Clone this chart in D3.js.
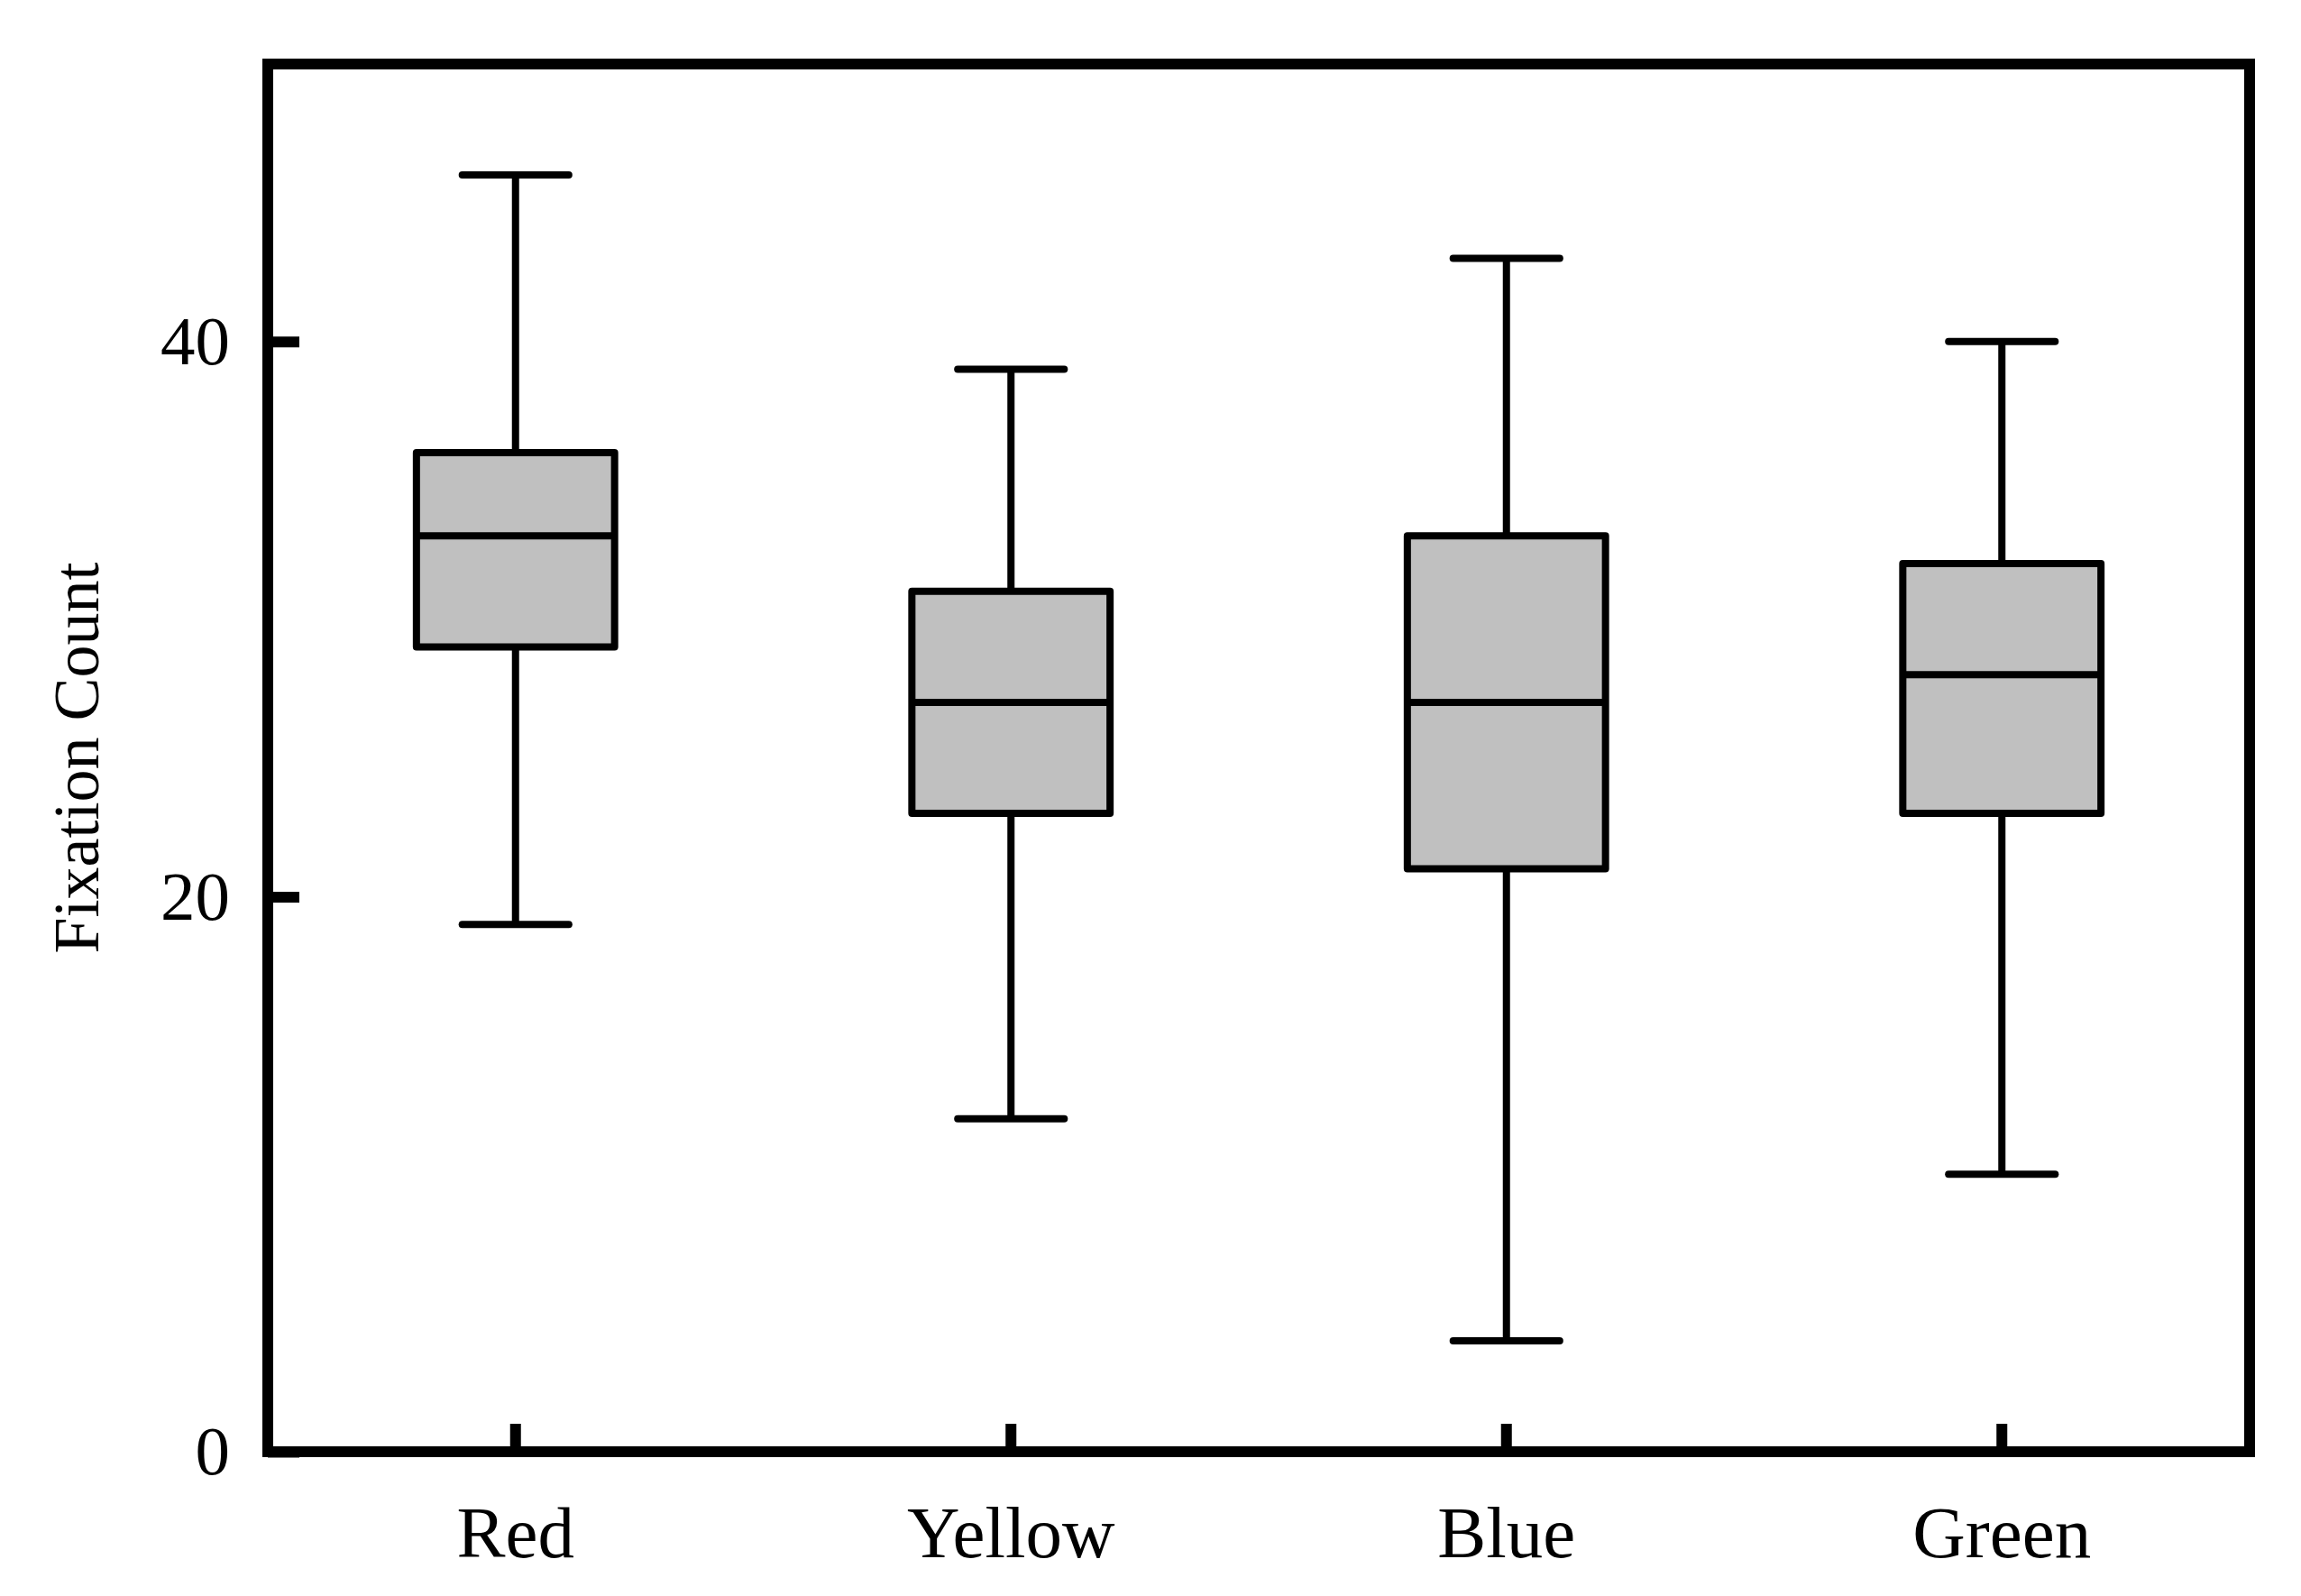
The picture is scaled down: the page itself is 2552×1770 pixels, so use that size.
<!DOCTYPE html>
<html>
<head>
<meta charset="utf-8">
<script src="https://cdn.jsdelivr.net/npm/d3@7"></script>
<style>
  html, body { margin: 0; padding: 0; background: #fff; }
  svg { display: block; }
  text { font-family: "Liberation Serif", "Times New Roman", serif; fill: #000; }
</style>
</head>
<body>
<script>
const categories = ["Red", "Yellow", "Blue", "Green"];
const whiskerMin = [19, 12, 4, 10];
const q1Values   = [29, 23, 21, 23];
const medians    = [33, 27, 27, 28];
const q3Values   = [36, 31, 33, 32];
const whiskerMax = [46, 39, 43, 40];
const yTicks = [0, 20, 40];
const yTitle = "Fixation Count";

const W = 2552, H = 1770;
const plotLeft = 297, plotRight = 2495, plotTop = 71, plotBottom = 1610;

const svg = d3.select("body").append("svg").attr("width", W).attr("height", H);

const x = d3.scaleBand().domain(categories).range([plotLeft, plotRight]).padding(0);
const y = d3.scaleLinear().domain([0, 50]).range([plotBottom, plotTop]);

const data = categories.map((c, i) => ({
  cat: c, min: whiskerMin[i], q1: q1Values[i], med: medians[i], q3: q3Values[i], max: whiskerMax[i]
}));

const boxW = x.bandwidth() * 0.4;
const capW = x.bandwidth() * 0.215;

const g = svg.append("g");
const groups = g.selectAll("g.box").data(data).join("g").attr("class", "box")
  .attr("transform", d => `translate(${x(d.cat) + x.bandwidth() / 2},0)`);

// whiskers
groups.append("line").attr("x1", 0).attr("x2", 0)
  .attr("y1", d => y(d.q3)).attr("y2", d => y(d.max))
  .attr("stroke", "#000").attr("stroke-width", 8);
groups.append("line").attr("x1", 0).attr("x2", 0)
  .attr("y1", d => y(d.q1)).attr("y2", d => y(d.min))
  .attr("stroke", "#000").attr("stroke-width", 8);
// caps
groups.append("line").attr("x1", -capW / 2).attr("x2", capW / 2)
  .attr("y1", d => y(d.max)).attr("y2", d => y(d.max))
  .attr("stroke", "#000").attr("stroke-width", 8).attr("stroke-linecap", "round");
groups.append("line").attr("x1", -capW / 2).attr("x2", capW / 2)
  .attr("y1", d => y(d.min)).attr("y2", d => y(d.min))
  .attr("stroke", "#000").attr("stroke-width", 8).attr("stroke-linecap", "round");
// box
groups.append("rect").attr("x", -boxW / 2).attr("width", boxW)
  .attr("y", d => y(d.q3)).attr("height", d => y(d.q1) - y(d.q3))
  .attr("fill", "#c0c0c0").attr("stroke", "#000").attr("stroke-width", 8)
  .attr("stroke-linejoin", "round");
// median
groups.append("line").attr("x1", -boxW / 2).attr("x2", boxW / 2)
  .attr("y1", d => y(d.med)).attr("y2", d => y(d.med))
  .attr("stroke", "#000").attr("stroke-width", 8);

// y axis
const yAxis = svg.append("g").attr("transform", `translate(${plotLeft},0)`)
  .call(d3.axisLeft(y).tickValues(yTicks).tickFormat(d3.format("d")).tickSize(-35).tickPadding(42));
yAxis.select(".domain").remove();
yAxis.selectAll(".tick line").attr("stroke", "#000").attr("stroke-width", 12);
yAxis.selectAll(".tick text").attr("font-size", 77)
  .style("font-family", '"Liberation Serif", "Times New Roman", serif').attr("fill", "#000");

// x axis
const xAxis = svg.append("g").attr("transform", `translate(0,${plotBottom})`)
  .call(d3.axisBottom(x).tickSize(-31).tickPadding(0));
xAxis.select(".domain").remove();
xAxis.selectAll(".tick line").attr("stroke", "#000").attr("stroke-width", 12);
xAxis.selectAll(".tick text").attr("font-size", 81).attr("dy", null).attr("y", 117)
  .style("font-family", '"Liberation Serif", "Times New Roman", serif').attr("fill", "#000");

// frame
svg.append("rect").attr("x", plotLeft).attr("y", plotTop)
  .attr("width", plotRight - plotLeft).attr("height", plotBottom - plotTop)
  .attr("fill", "none").attr("stroke", "#000").attr("stroke-width", 12);

// y title
svg.append("text")
  .attr("transform", `translate(109,${(plotTop + plotBottom) / 2}) rotate(-90)`)
  .attr("text-anchor", "middle").attr("font-size", 72)
  .text(yTitle);
</script>
</body>
</html>
